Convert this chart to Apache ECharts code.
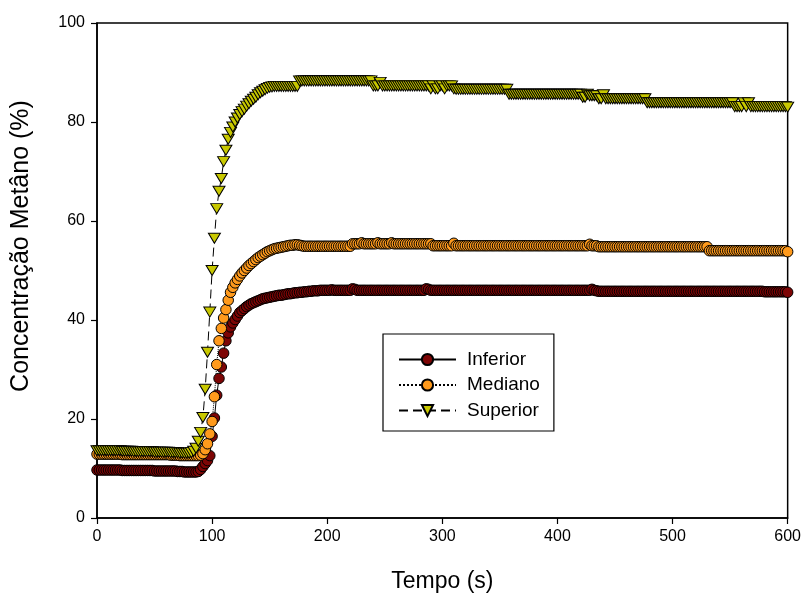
<!DOCTYPE html>
<html>
<head>
<meta charset="utf-8">
<script src="https://cdn.jsdelivr.net/npm/echarts@6/dist/echarts.min.js"></script>
<style>
  html, body { margin: 0; padding: 0; background: #fff; }
  #chart { width: 804px; height: 599px; }
</style>
</head>
<body>
<div id="chart"></div>
<script>
// amostras a cada 2 s, de 0 a 600 s
var passo = 2;

var nomesSeries = ['Inferior', 'Mediano', 'Superior'];
var xTicks = [0, 100, 200, 300, 400, 500, 600];
var yTicks = [0, 20, 40, 60, 80, 100];

var inferior = [
  9.7,9.7,9.7,9.7,9.7,9.7,9.7,9.7,9.7,9.7,
  9.7,9.6,9.6,9.6,9.6,9.6,9.6,9.6,9.6,9.6,
  9.6,9.6,9.6,9.6,9.6,9.5,9.5,9.5,9.5,9.5,
  9.5,9.5,9.5,9.5,9.5,9.4,9.4,9.4,9.3,9.3,
  9.3,9.3,9.3,9.3,9.4,9.8,10.4,11.0,11.6,12.6,
  16.5,20.2,24.8,28.2,30.5,33.3,35.8,37.4,38.6,39.4,
  40.1,40.8,41.5,41.9,42.3,42.7,43.0,43.3,43.5,43.7,
  43.9,44.1,44.3,44.4,44.5,44.6,44.7,44.8,44.9,45.0,
  45.0,45.1,45.2,45.3,45.3,45.4,45.5,45.5,45.6,45.6,
  45.7,45.7,45.8,45.8,45.9,45.9,45.9,46.0,46.0,46.0,
  46.0,46.0,46.1,46.0,46.0,46.0,46.0,46.0,46.0,46.0,
  46.0,46.3,46.2,46.0,46.0,46.0,46.0,46.0,46.0,46.0,
  46.0,46.0,46.0,46.0,46.0,46.0,46.0,46.0,46.0,46.0,
  46.0,46.0,46.0,46.0,46.0,46.0,46.0,46.0,46.0,46.0,
  46.0,46.0,46.0,46.3,46.2,46.0,46.0,46.0,46.0,46.0,
  46.0,46.0,46.0,46.0,46.0,46.0,46.0,46.0,46.0,46.0,
  46.0,46.0,46.0,46.0,46.0,46.0,46.0,46.0,46.0,46.0,
  46.0,46.0,46.0,46.0,46.0,46.0,46.0,46.0,46.0,46.0,
  46.0,46.0,46.0,46.0,46.0,46.0,46.0,46.0,46.0,46.0,
  46.0,46.0,46.0,46.0,46.0,46.0,46.0,46.0,46.0,46.0,
  46.0,46.0,46.0,46.0,46.0,46.0,46.0,46.0,46.0,46.0,
  46.0,46.0,46.0,46.0,46.0,46.2,46.0,45.9,45.8,45.8,
  45.8,45.8,45.8,45.8,45.8,45.8,45.8,45.8,45.8,45.8,
  45.8,45.8,45.8,45.8,45.8,45.8,45.8,45.8,45.8,45.8,
  45.8,45.8,45.8,45.8,45.8,45.8,45.8,45.8,45.8,45.8,
  45.8,45.8,45.8,45.8,45.8,45.8,45.8,45.8,45.8,45.8,
  45.8,45.8,45.8,45.8,45.8,45.8,45.8,45.8,45.8,45.8,
  45.8,45.8,45.8,45.8,45.8,45.8,45.8,45.8,45.8,45.8,
  45.8,45.8,45.8,45.8,45.8,45.8,45.8,45.8,45.8,45.8,
  45.7,45.7,45.7,45.7,45.7,45.7,45.7,45.7,45.7,45.7,
  45.6
];

var mediano = [
  12.9,12.9,12.9,12.9,12.9,12.9,12.9,12.9,12.9,12.9,
  12.9,12.8,12.8,12.8,12.8,12.8,12.8,12.8,12.8,12.8,
  12.8,12.8,12.8,12.8,12.8,12.8,12.8,12.8,12.8,12.8,
  12.8,12.8,12.7,12.7,12.7,12.7,12.6,12.6,12.6,12.6,
  12.6,12.6,12.6,12.6,12.6,12.7,13.0,13.8,15.0,17.0,
  19.5,24.5,31.0,35.8,38.3,40.4,42.1,44.0,45.6,46.6,
  47.5,48.2,48.9,49.5,50.0,50.5,51.0,51.4,51.8,52.2,
  52.6,52.9,53.2,53.5,53.8,54.0,54.2,54.4,54.5,54.6,
  54.7,54.8,54.9,55.0,55.1,55.1,55.2,55.2,55.1,55.0,
  54.9,54.9,54.9,54.9,54.9,54.9,54.9,54.9,54.9,54.9,
  54.9,54.9,54.9,54.9,54.9,54.9,54.9,54.9,54.9,54.9,
  54.9,55.4,55.4,55.4,55.4,55.6,55.4,55.4,55.4,55.4,
  55.4,55.4,55.6,55.4,55.4,55.4,55.4,55.4,55.6,55.4,
  55.4,55.4,55.4,55.4,55.4,55.4,55.4,55.4,55.4,55.4,
  55.4,55.4,55.4,55.4,55.4,55.4,55.0,55.0,55.0,55.0,
  55.0,55.0,55.0,55.0,55.0,55.5,55.0,55.0,55.0,55.0,
  55.0,55.0,55.0,55.0,55.0,55.0,55.0,55.0,55.0,55.0,
  55.0,55.0,55.0,55.0,55.0,55.0,55.0,55.0,55.0,55.0,
  55.0,55.0,55.0,55.0,55.0,55.0,55.0,55.0,55.0,55.0,
  55.0,55.0,55.0,55.0,55.0,55.0,55.0,55.0,55.0,55.0,
  55.0,55.0,55.0,55.0,55.0,55.0,55.0,55.0,55.0,55.0,
  55.0,55.0,55.0,55.0,55.3,55.0,55.0,55.0,54.8,54.8,
  54.8,54.8,54.8,54.8,54.8,54.8,54.8,54.8,54.8,54.8,
  54.8,54.8,54.8,54.8,54.8,54.8,54.8,54.8,54.8,54.8,
  54.8,54.8,54.8,54.8,54.8,54.8,54.8,54.8,54.8,54.8,
  54.8,54.8,54.8,54.8,54.8,54.8,54.8,54.8,54.8,54.8,
  54.8,54.8,54.8,54.8,54.8,54.8,54.0,54.0,54.0,54.0,
  54.0,54.0,54.0,54.0,54.0,54.0,54.0,54.0,54.0,54.0,
  54.0,54.0,54.0,54.0,54.0,54.0,54.0,54.0,54.0,54.0,
  54.0,54.0,54.0,54.0,54.0,54.0,54.0,54.0,54.0,54.0,
  53.8
];

var superior = [
  13.6,13.6,13.6,13.6,13.6,13.6,13.6,13.6,13.6,13.6,
  13.6,13.5,13.5,13.5,13.5,13.5,13.4,13.4,13.4,13.4,
  13.4,13.4,13.4,13.4,13.4,13.3,13.3,13.3,13.3,13.3,
  13.3,13.3,13.2,13.2,13.2,13.2,13.1,13.1,13.1,13.1,
  13.1,13.2,13.5,14.1,15.5,17.3,20.3,26.0,33.5,41.6,
  50.0,56.5,62.5,66.0,68.6,72.0,74.3,76.5,77.9,79.0,
  80.0,80.8,81.5,82.1,82.6,83.2,83.7,84.2,84.6,85.0,
  85.5,85.9,86.2,86.5,86.8,87.0,87.1,87.2,87.2,87.2,
  87.2,87.2,87.2,87.2,87.2,87.2,87.2,87.2,88.3,88.3,
  88.3,88.3,88.3,88.3,88.3,88.3,88.3,88.3,88.3,88.3,
  88.3,88.3,88.3,88.3,88.3,88.3,88.3,88.3,88.3,88.3,
  88.3,88.3,88.3,88.3,88.3,88.3,88.3,88.3,88.3,88.3,
  87.3,87.3,87.3,88.0,87.3,87.3,87.3,87.3,87.3,87.3,
  87.3,87.3,87.3,87.3,87.3,87.3,87.3,87.3,87.3,87.3,
  87.3,87.3,87.3,87.3,87.3,86.7,87.3,86.7,86.7,87.3,
  87.3,86.7,87.3,87.3,87.3,86.7,86.6,86.6,86.6,86.6,
  86.6,86.6,86.6,86.6,86.6,86.6,86.6,86.6,86.6,86.6,
  86.6,86.6,86.6,86.6,86.6,86.6,86.6,86.6,86.6,85.6,
  85.6,85.6,85.6,85.6,85.6,85.6,85.6,85.6,85.6,85.6,
  85.6,85.6,85.6,85.6,85.6,85.6,85.6,85.6,85.6,85.6,
  85.6,85.6,85.6,85.6,85.6,85.6,85.6,85.6,85.6,85.6,
  85.6,85.0,85.0,85.6,85.3,85.3,85.3,85.3,84.7,84.7,
  85.5,84.7,84.7,84.7,84.7,84.7,84.7,84.7,84.7,84.7,
  84.7,84.7,84.7,84.7,84.7,84.7,84.7,84.7,84.7,83.9,
  83.9,83.9,83.9,83.9,83.9,83.9,83.9,83.9,83.9,83.9,
  83.9,83.9,83.9,83.9,83.9,83.9,83.9,83.9,83.9,83.9,
  83.9,83.9,83.9,83.9,83.9,83.9,83.9,83.9,83.9,83.9,
  83.9,83.9,83.9,83.9,83.9,83.9,83.9,83.1,83.1,83.1,
  83.1,83.9,83.1,83.9,83.1,83.1,83.1,83.1,83.1,83.1,
  83.1,83.1,83.1,83.1,83.1,83.1,83.1,83.1,83.1,83.1,
  83.0
];

// junta tempo e valor
function pares(valores) {
  var out = [];
  for (var i = 0; i < valores.length; i++) {
    out.push([i * passo, valores[i]]);
  }
  return out;
}

var fonte = '"Liberation Sans", Arial, sans-serif';
var chart = echarts.init(document.getElementById('chart'));

var option = {
  animation: false,
  backgroundColor: '#fff',
  grid: {
    left: 97, right: 15, top: 23, bottom: 81,
    show: true, borderColor: '#000', borderWidth: 1.5
  },
  // titulo do eixo y, posto a mao como no original
  graphic: [{
    type: 'text',
    x: 21, y: 246,
    rotation: Math.PI / 2,
    style: {
      text: 'Concentração Metâno (%)',
      font: '25px ' + fonte,
      fill: '#000',
      align: 'center',
      verticalAlign: 'middle'
    }
  }],
  legend: {
    data: nomesSeries,
    orient: 'vertical',
    left: 383, top: 334,
    padding: [16, 14, 11, 15],
    itemGap: 6.5,
    itemWidth: 57, itemHeight: 14,
    borderColor: '#000', borderWidth: 1.2,
    backgroundColor: '#fff',
    textStyle: { fontFamily: fonte, fontSize: 19, color: '#000', padding: [0, 0, 0, 6] }
  },
  xAxis: {
    type: 'value', min: 0, max: 600, interval: 100,
    name: 'Tempo (s)', nameLocation: 'middle', nameGap: 52,
    nameTextStyle: { fontFamily: fonte, fontSize: 23, color: '#000' },
    axisLine: { lineStyle: { color: '#000', width: 1.5 } },
    axisTick: { show: true, length: 6, lineStyle: { color: '#000', width: 1.2 } },
    axisLabel: {
      fontFamily: fonte, fontSize: 16, color: '#000', margin: 11,
      formatter: function (v) { return xTicks.indexOf(v) >= 0 ? String(v) : ''; }
    },
    splitLine: { show: false }
  },
  yAxis: {
    type: 'value', min: 0, max: 100, interval: 20,
    axisLine: { show: true, lineStyle: { color: '#000', width: 1.5 } },
    axisTick: { show: true, length: 6, lineStyle: { color: '#000', width: 1.2 } },
    axisLabel: {
      fontFamily: fonte, fontSize: 16, color: '#000', margin: 12,
      formatter: function (v) { return yTicks.indexOf(v) >= 0 ? String(v) : ''; }
    },
    splitLine: { show: false }
  },
  series: [
    {
      name: 'Inferior', type: 'line', data: pares(inferior),
      symbol: 'circle', symbolSize: 10.5, showAllSymbol: true,
      lineStyle: { color: '#000', width: 1, type: 'solid' },
      itemStyle: { color: '#7d0505', borderColor: '#000', borderWidth: 1 }
    },
    {
      name: 'Mediano', type: 'line', data: pares(mediano),
      symbol: 'circle', symbolSize: 10.5, showAllSymbol: true,
      lineStyle: { color: '#000', width: 1, type: 'dotted' },
      itemStyle: { color: '#ff9a1c', borderColor: '#000', borderWidth: 1 }
    },
    {
      name: 'Superior', type: 'line', data: pares(superior),
      symbol: 'triangle', symbolRotate: 180, symbolSize: [12, 10], showAllSymbol: true,
      lineStyle: { color: '#000', width: 1, type: [9, 5] },
      itemStyle: { color: '#c8c800', borderColor: '#000', borderWidth: 1 }
    }
  ]
};

chart.setOption(option);
</script>
</body>
</html>
